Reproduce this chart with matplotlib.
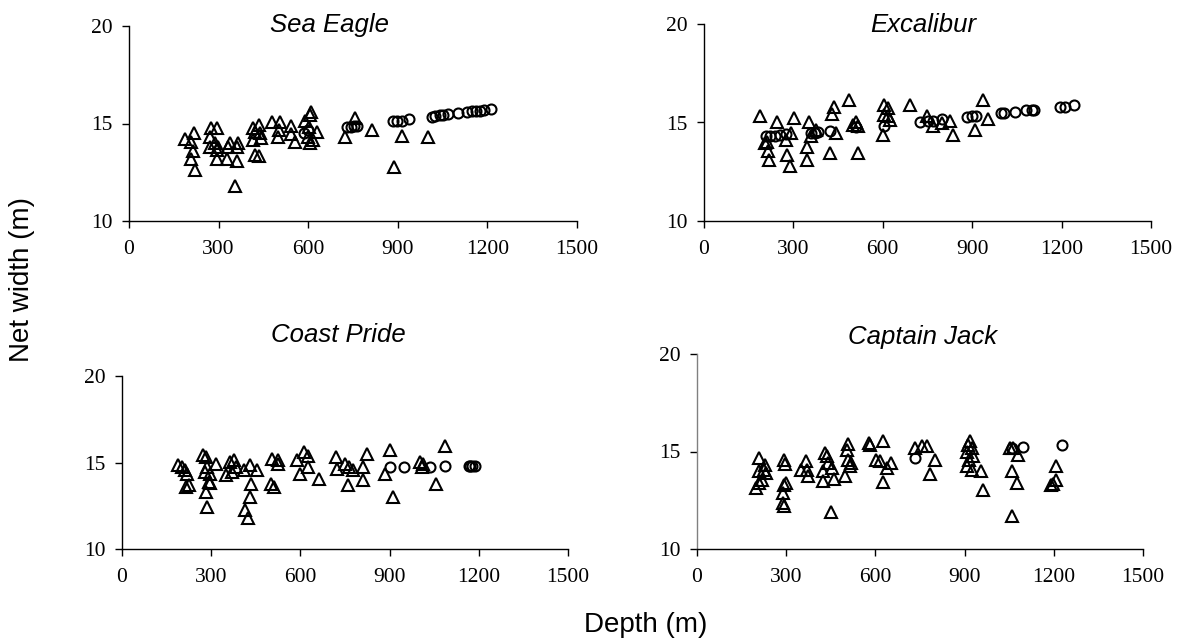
import numpy as np
import matplotlib
matplotlib.use("Agg")
import matplotlib.pyplot as plt

# Sea Eagle
se_tri_x = [187, 217, 209, 215, 209, 220, 276, 293, 270, 270, 287, 293, 293, 298, 332, 338,
            327, 360, 365, 360, 354, 416, 421, 416, 421, 436, 436, 438, 443, 480, 505, 503,
            500, 541, 544, 555, 589, 606, 611, 603, 600, 606, 628, 617, 723, 756, 812, 887,
            913, 1002]
se_tri_y = [14.19, 14.53, 14.07, 13.6, 13.16, 12.6, 14.75, 14.75, 14.3, 13.8, 14.0, 13.65, 13.2,
            13.8, 13.8, 14.0, 13.16, 13.8, 13.98, 13.1, 11.8, 14.75, 14.58, 14.15, 13.38, 13.33,
            14.9, 14.5, 14.24, 15.1, 15.1, 14.67, 14.3, 14.87, 14.46, 14.07, 15.15, 15.44, 15.6,
            14.84, 14.33, 13.98, 14.58, 14.15, 14.33, 15.26, 14.67, 12.75, 14.36, 14.29]
se_circ_x = [585, 600, 731, 742, 753, 762, 885, 898, 913, 939, 1013, 1025, 1041, 1052, 1069,
             1103, 1131, 1148, 1162, 1175, 1187, 1211]
se_circ_y = [14.53, 14.67, 14.84, 14.84, 14.87, 14.87, 15.15, 15.15, 15.15, 15.21, 15.35, 15.38,
             15.42, 15.45, 15.5, 15.56, 15.6, 15.64, 15.64, 15.66, 15.69, 15.74]

# Excalibur
ex_tri_x = [187, 245, 302, 353, 435, 431, 487, 603, 618, 691, 937, 954, 603, 624, 599, 834,
            825, 909, 509, 517, 517, 424, 444, 347, 347, 360, 377, 293, 276, 278, 288, 212,
            215, 218, 204, 747, 769, 797, 618, 500]
ex_tri_y = [15.31, 15.0, 15.22, 15.0, 15.81, 15.44, 16.15, 15.9, 15.73, 15.9, 16.12, 15.17,
            15.39, 15.14, 14.37, 14.37, 15.1, 14.63, 15.0, 14.8, 13.47, 13.44, 14.46, 13.78,
            13.1, 14.3, 14.63, 14.46, 14.12, 13.36, 12.8, 14.03, 13.53, 13.1, 13.95, 15.31,
            14.8, 14.97, 15.31, 14.88]
ex_circ_x = [207, 221, 238, 254, 274, 360, 372, 383, 422, 511, 603, 724, 752, 769, 797, 881,
             898, 912, 995, 1006, 1043, 1082, 1099, 1107, 1194, 1211, 1243]
ex_circ_y = [14.29, 14.32, 14.32, 14.36, 14.42, 14.49, 14.49, 14.53, 14.58, 14.76, 14.83,
             15.05, 15.1, 15.08, 15.2, 15.29, 15.32, 15.32, 15.47, 15.47, 15.52, 15.64, 15.64,
             15.64, 15.78, 15.81, 15.88]

# Coast Pride
cp_tri_x = [190, 201, 212, 220, 215, 227, 272, 283, 285, 279, 296, 291, 296, 283, 287, 316,
            350, 364, 375, 369, 384, 409, 429, 453, 433, 429, 414, 425, 500, 512, 504, 523,
            526, 588, 599, 613, 627, 627, 662, 720, 722, 750, 762, 759, 777, 812, 812, 823,
            885, 900, 911, 1003, 1014, 1057, 1087, 1009]
cp_tri_y = [14.85, 14.75, 14.56, 14.36, 13.59, 13.69, 15.42, 15.29, 14.75, 14.46, 14.36, 13.88,
            13.82, 13.3, 12.43, 14.94, 14.27, 15.04, 15.13, 14.46, 14.75, 14.56, 14.85, 14.56,
            13.75, 13.01, 12.24, 11.82, 13.78, 13.59, 15.23, 15.14, 14.94, 15.14, 14.36, 15.62,
            15.37, 14.75, 14.07, 15.29, 14.65, 14.94, 14.75, 13.69, 14.56, 14.75, 13.98, 15.52,
            14.32, 15.75, 13.01, 15.04, 14.9, 13.78, 15.95, 14.75]
cp_circ_x = [902, 949, 1035, 1087, 1166, 1171, 1177, 1188]
cp_circ_y = [14.75, 14.75, 14.75, 14.79, 14.81, 14.81, 14.81, 14.81]

# Captain Jack
cj_tri_x = [210, 199, 210, 218, 207, 224, 229, 233, 293, 296, 291, 300, 289, 289, 291, 349,
            367, 369, 372, 425, 423, 431, 437, 442, 453, 461, 450, 498, 509, 504, 509, 517,
            513, 577, 582, 602, 616, 625, 638, 651, 625, 733, 756, 775, 800, 784, 918, 912,
            924, 907, 929, 916, 909, 926, 955, 961, 1052, 1080, 1058, 1075, 1061, 1207, 1207,
            1192, 1198, 1063]
cj_tri_y = [14.67, 13.13, 13.39, 13.56, 13.98, 14.07, 14.32, 13.89, 14.55, 14.38, 13.3, 13.39,
            12.87, 12.36, 12.19, 14.07, 14.5, 14.07, 13.73, 13.98, 13.47, 14.92, 14.79, 14.41,
            14.15, 13.59, 11.88, 13.76, 15.4, 15.09, 14.58, 14.41, 14.24, 15.43, 15.34, 14.58,
            14.5, 15.52, 14.15, 14.41, 13.42, 15.17, 15.26, 15.26, 14.58, 13.86, 15.52, 15.35,
            15.17, 15.0, 14.75, 14.58, 14.24, 14.07, 13.98, 13.04, 15.17, 14.84, 13.98, 13.39,
            11.68, 14.24, 13.52, 13.3, 13.35, 15.17]
cj_circ_x = [733, 1058, 1097, 1226]
cj_circ_y = [14.67, 15.17, 15.22, 15.34]

titles = ["Sea Eagle", "Excalibur", "Coast Pride", "Captain Jack"]
x_ticks = [0, 300, 600, 900, 1200, 1500]
y_ticks = [10, 15, 20]

panels = [
    (se_tri_x, se_tri_y, se_circ_x, se_circ_y),
    (ex_tri_x, ex_tri_y, ex_circ_x, ex_circ_y),
    (cp_tri_x, cp_tri_y, cp_circ_x, cp_circ_y),
    (cj_tri_x, cj_tri_y, cj_circ_x, cj_circ_y),
]

W, H = 1177, 640
# axes boxes in pixels: left, right, top, bottom
boxes = [(129, 577, 26, 221), (704, 1151, 24, 221), (122, 568, 376, 549), (697, 1143, 354, 549)]
title_pos = [(330, 25), (923, 25), (338, 335), (923, 337)]

fig = plt.figure(figsize=(W / 100, H / 100), dpi=100)

for i, (tx, ty, cx, cy) in enumerate(panels):
    l, r, t, b = boxes[i]
    ax = fig.add_axes([l / W, 1 - b / H, (r - l) / W, (b - t) / H])
    ax.plot(tx, ty, linestyle="none", marker="^", markersize=8.6, markerfacecolor="none",
            markeredgecolor="black", markeredgewidth=1.5, clip_on=False)
    ax.plot(cx, cy, linestyle="none", marker="o", markersize=7.2, markerfacecolor="none",
            markeredgecolor="black", markeredgewidth=1.5, clip_on=False)
    ax.set_xlim(0, 1500)
    ax.set_ylim(10, 20)
    ax.set_xticks(x_ticks)
    ax.set_yticks(y_ticks)
    ax.spines["top"].set_visible(False)
    ax.spines["right"].set_visible(False)
    ax.spines["left"].set_linewidth(1.0)
    ax.spines["bottom"].set_linewidth(1.0)
    if i == 3:
        ax.spines["left"].set_color("#808080")
    ax.tick_params(axis="x", direction="out", length=5, width=1.0, pad=9)
    ax.tick_params(axis="y", direction="out", length=5, width=1.0, pad=7)
    for lab in ax.get_xticklabels() + ax.get_yticklabels():
        lab.set_fontfamily("Liberation Serif")
        lab.set_fontsize(15.5)
    fig.text(title_pos[i][0] / W, 1 - title_pos[i][1] / H, titles[i], ha="center", va="center",
             fontsize=18.5, fontstyle="italic", family="Liberation Sans")

fig.text(22 / W, 1 - 280 / H, "Net width (m)", rotation=90, ha="center", va="center",
         fontsize=20, family="Liberation Sans")
fig.text(646 / W, 1 - 625 / H, "Depth (m)", ha="center", va="center",
         fontsize=20, family="Liberation Sans")

fig.savefig("out.png", dpi=100)
